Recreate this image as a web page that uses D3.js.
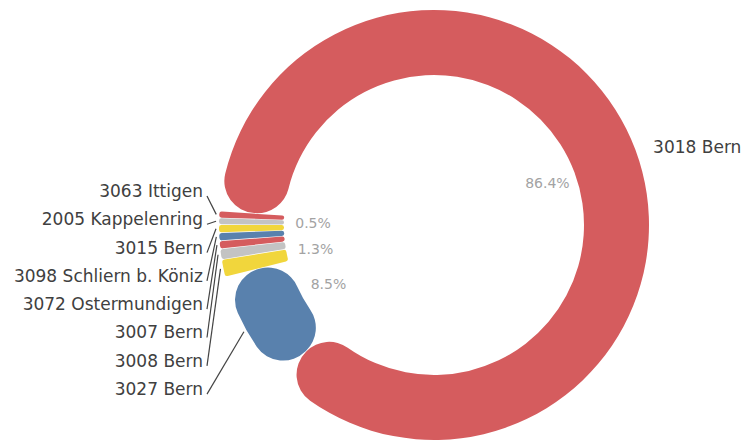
<!DOCTYPE html>
<html>
<head>
<meta charset="utf-8">
<script src="https://cdn.jsdelivr.net/npm/d3@7"></script>
<style>
  body { margin: 0; background: #fff; }
  svg { display: block; font-family: "DejaVu Sans", sans-serif; }
</style>
</head>
<body>
<svg id="chart" width="748" height="440"></svg>
<script>
// postcode areas, in the order the slices run clockwise
const areas = ["3018 Bern", "3027 Bern", "3008 Bern", "3007 Bern", "3072 Ostermundigen",
               "3098 Schliern b. Köniz", "3015 Bern", "2005 Kappelenring", "3063 Ittigen"];
const shares = [86.4, 8.5, 1.3, 0.8, 0.6, 0.6, 0.6, 0.5, 0.5];
// only these get a % label (the others are too thin in the original)
const pctShown = ["3018 Bern", "3027 Bern", "3008 Bern", "2005 Kappelenring"];
const palette = ["#d55c5e", "#5981ad", "#f1d63c", "#c3c3c3"];

const svg = d3.select("#chart");
const cx = 434, cy = 225;
const outerR = 215, innerR = 150;

const data = areas.map((a, i) => ({ area: a, value: shares[i] }));

const start = -86.3 * Math.PI / 180;
const pie = d3.pie()
    .sort(null)
    .value(d => d.value)
    .startAngle(start)
    .endAngle(start + 2 * Math.PI);

// wide slices get full round caps, thin ones just soft corners
const arc = d3.arc()
    .innerRadius(innerR)
    .outerRadius(outerR)
    .cornerRadius(d => (d.endAngle - d.startAngle) > 0.2 ? 32 : 2.5)
    .padAngle(0.0025);

const color = d3.scaleOrdinal().domain(areas).range(palette);

const arcs = pie(data);
const g = svg.append("g").attr("transform", `translate(${cx},${cy})`);

g.selectAll("path.slice")
    .data(arcs)
    .enter()
    .append("path")
    .attr("class", "slice")
    .attr("d", arc)
    .attr("fill", d => color(d.data.area));

// percentage labels inside the hole
const pctArc = d3.arc().innerRadius(121).outerRadius(121);
g.selectAll("text.pct")
    .data(arcs.filter(d => pctShown.includes(d.data.area)))
    .enter()
    .append("text")
    .attr("class", "pct")
    .attr("transform", d => {
        const c = pctArc.centroid(d);
        return `translate(${c[0]},${c[1]})`;
    })
    .attr("text-anchor", "middle")
    .attr("dy", "0.35em")
    .style("font-size", "14px")
    .style("fill", "#a3a3a3")
    .text(d => d.value.toFixed(1) + "%");

function pointAt(angle, r) {
    return [Math.sin(angle) * r, -Math.cos(angle) * r];
}

// big slice label sits to the right, no leader line
const big = arcs[0];
const bigMid = (big.startAngle + big.endAngle) / 2;
const bp = pointAt(bigMid, outerR + 21);
g.append("text")
    .attr("x", bp[0] - 2)
    .attr("y", bp[1] + 5)
    .attr("dy", "0.35em")
    .style("font-size", "17px")
    .style("fill", "#404040")
    .text(big.data.area);

// small slices: labels stacked on the left, bottom to top = slice order
const small = arcs.slice(1).reverse();
const rowTop = 191 - cy, rowStep = 28.3;

small.forEach((d, i) => {
    const mid = (d.startAngle + d.endAngle) / 2;
    const p = pointAt(mid, outerR + 3);
    const ly = rowTop + i * rowStep;
    const lx = Math.min(203 - cx, p[0] - 12);

    g.append("line")
        .attr("x1", lx + 4)
        .attr("y1", ly + 5)
        .attr("x2", p[0])
        .attr("y2", p[1])
        .attr("stroke", "#444")
        .attr("stroke-width", 1.2);

    g.append("text")
        .attr("x", lx)
        .attr("y", ly)
        .attr("dy", "0.35em")
        .attr("text-anchor", "end")
        .style("font-size", "17px")
        .style("fill", "#404040")
        .text(d.data.area);
});
</script>
</body>
</html>
